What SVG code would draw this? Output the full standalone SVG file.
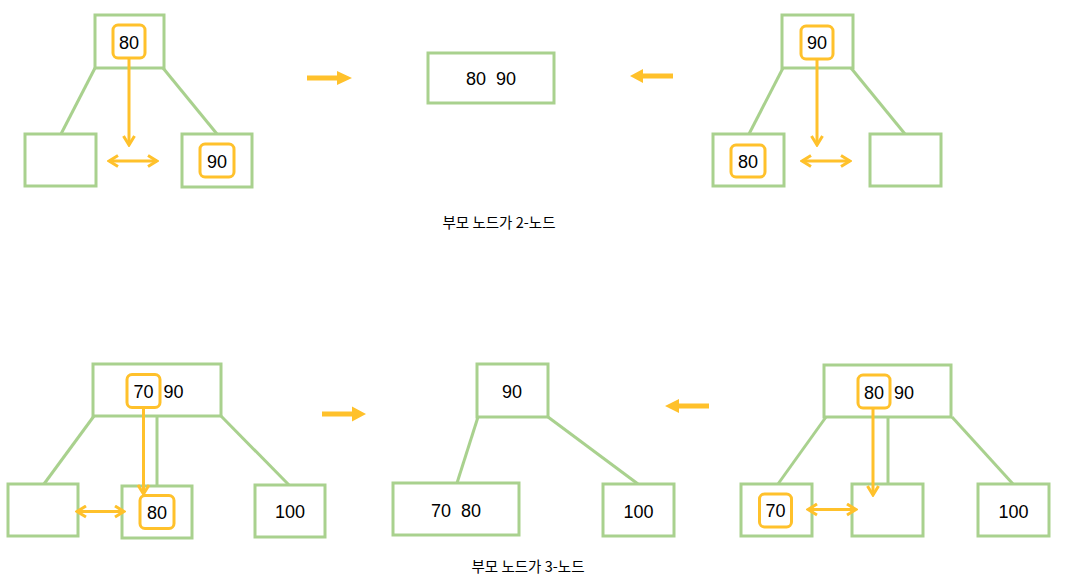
<svg xmlns="http://www.w3.org/2000/svg" width="1070" height="586" viewBox="0 0 1070 586">
<style>
.box{fill:#fff;stroke:#A9D18E;stroke-width:3}
.edge{stroke:#A9D18E;stroke-width:3;fill:none}
.hl{fill:none;stroke:#FFC12B;stroke-width:3}
.arr{stroke:#FFC12B;stroke-width:3;fill:none}
.fat{fill:#FFC12B;stroke:none}
.t{font-family:"Liberation Sans",Arial,sans-serif;font-size:18px;fill:#000;text-anchor:middle}
.cap{font-family:"Noto Sans CJK KR","Liberation Sans",sans-serif;font-size:14.5px;fill:#000;text-anchor:middle}
</style>
<defs>
<marker id="chev" viewBox="0 0 14 14" refX="12" refY="7" markerWidth="14" markerHeight="14" orient="auto-start-reverse" markerUnits="userSpaceOnUse">
<path d="M3,1.5 L12,7 L3,12.5" fill="none" stroke="#FFC12B" stroke-width="3"/>
</marker>
</defs>
<rect width="1070" height="586" fill="#fff"/>

<g id="connectors">
<line class="edge" x1="95" y1="68" x2="61" y2="134"/>
<line class="edge" x1="163" y1="68" x2="217" y2="134"/>
<line class="edge" x1="783" y1="68" x2="749" y2="134"/>
<line class="edge" x1="851" y1="68" x2="905" y2="134"/>
<line class="edge" x1="94" y1="416" x2="44" y2="484"/>
<line class="edge" x1="157" y1="416" x2="157" y2="486"/>
<line class="edge" x1="221" y1="416" x2="289" y2="485"/>
<line class="edge" x1="478" y1="417" x2="457" y2="483"/>
<line class="edge" x1="548" y1="417" x2="638" y2="484"/>
<line class="edge" x1="826" y1="417" x2="778" y2="484"/>
<line class="edge" x1="888" y1="417" x2="888" y2="484"/>
<line class="edge" x1="952" y1="417" x2="1013" y2="484"/>
<path class="fat" d="M307,75.5 H337 V71 L352,78 L337,85 V80.5 H307 Z"/>
<path class="fat" d="M673,73.5 H643 V69 L630,76 L643,83 V78.5 H673 Z"/>
<path class="fat" d="M322,411.5 H352 V406.5 L366,414 L352,421.5 V416.5 H322 Z"/>
<path class="fat" d="M709,403.5 H679 V399 L665,406 L679,413 V408.5 H709 Z"/>
</g>

<g id="tl-parent"><rect class="box" x="95" y="15" width="69" height="53"/><rect class="hl" x="113" y="25" width="32" height="33" rx="5"/><text class="t" x="129" y="48.5">80</text></g>
<g id="tl-left"><rect class="box" x="25" y="134" width="71" height="52"/></g>
<g id="tl-right"><rect class="box" x="182" y="134" width="70" height="53"/><rect class="hl" x="200" y="144" width="34" height="33" rx="5"/><text class="t" x="217" y="167.5">90</text></g>

<g id="tm-node"><rect class="box" x="428" y="53" width="126" height="50"/><text class="t" x="491" y="85" xml:space="preserve">80  90</text></g>

<g id="tr-parent"><rect class="box" x="782" y="15" width="71" height="53"/><rect class="hl" x="801" y="26" width="32" height="33" rx="5"/><text class="t" x="817" y="49">90</text></g>
<g id="tr-left"><rect class="box" x="713" y="134" width="71" height="52"/><rect class="hl" x="731" y="145" width="34" height="32" rx="5"/><text class="t" x="748" y="167.5">80</text></g>
<g id="tr-right"><rect class="box" x="870" y="134" width="71" height="52"/></g>

<g id="caption1"><text class="cap" x="499" y="228">부모 노드가 2-노드</text></g>

<g id="bl-parent"><rect class="box" x="93" y="364" width="128" height="52"/><rect class="hl" x="127" y="374.5" width="33" height="33" rx="5"/><text class="t" x="143.5" y="398">70</text><text class="t" x="173.5" y="398">90</text></g>
<g id="bl-left"><rect class="box" x="8" y="484" width="70" height="52"/></g>
<g id="bl-mid"><rect class="box" x="122" y="486" width="70" height="52"/><rect class="hl" x="140" y="495.5" width="34" height="33" rx="5"/><text class="t" x="157" y="518.5">80</text></g>
<g id="bl-right"><rect class="box" x="255" y="485" width="70" height="52"/><text class="t" x="290" y="518">100</text></g>

<g id="bm-parent"><rect class="box" x="477" y="364" width="71" height="53"/><text class="t" x="512" y="398">90</text></g>
<g id="bm-left"><rect class="box" x="393" y="483" width="126" height="52"/><text class="t" x="456" y="516.5" xml:space="preserve">70  80</text></g>
<g id="bm-right"><rect class="box" x="603" y="484" width="71" height="52"/><text class="t" x="638.5" y="517.5">100</text></g>

<g id="br-parent"><rect class="box" x="824" y="365" width="127" height="52"/><rect class="hl" x="858" y="375" width="32" height="33" rx="5"/><text class="t" x="874" y="398.5">80</text><text class="t" x="904" y="398.5">90</text></g>
<g id="br-left"><rect class="box" x="741" y="484" width="71" height="52"/><rect class="hl" x="759.5" y="494" width="32" height="33" rx="5"/><text class="t" x="775.5" y="517">70</text></g>
<g id="br-mid"><rect class="box" x="852" y="484" width="71" height="52"/></g>
<g id="br-right"><rect class="box" x="978" y="484" width="71" height="52"/><text class="t" x="1013.5" y="517.5">100</text></g>

<g id="caption2"><text class="cap" x="528" y="572">부모 노드가 3-노드</text></g>

<g id="move-arrows">
<line class="arr" x1="129" y1="58" x2="129" y2="145" marker-end="url(#chev)"/>
<line class="arr" x1="109" y1="161" x2="157" y2="161" marker-start="url(#chev)" marker-end="url(#chev)"/>
<line class="arr" x1="817" y1="58" x2="817" y2="145" marker-end="url(#chev)"/>
<line class="arr" x1="802" y1="161" x2="850" y2="161" marker-start="url(#chev)" marker-end="url(#chev)"/>
<line class="arr" x1="143.5" y1="407" x2="143.5" y2="494" marker-end="url(#chev)"/>
<line class="arr" x1="77" y1="511.5" x2="124" y2="511.5" marker-start="url(#chev)" marker-end="url(#chev)"/>
<line class="arr" x1="873" y1="408" x2="873" y2="495" marker-end="url(#chev)"/>
<line class="arr" x1="808" y1="509.5" x2="856" y2="509.5" marker-start="url(#chev)" marker-end="url(#chev)"/>
</g>
</svg>
